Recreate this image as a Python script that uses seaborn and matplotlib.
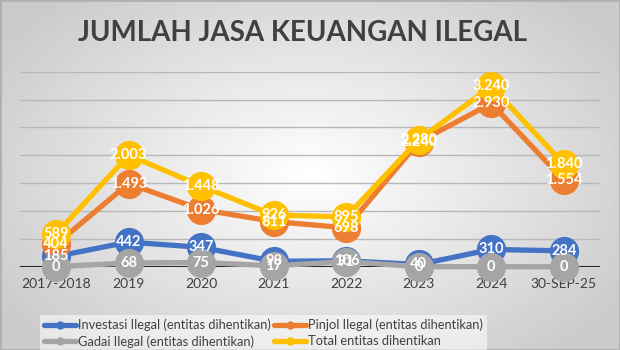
import numpy as np
import pandas as pd
import matplotlib
matplotlib.use("Agg")
import matplotlib.pyplot as plt
import seaborn as sns
from matplotlib.lines import Line2D

categories = ["2017-2018", "2019", "2020", "2021", "2022", "2023", "2024", "30-SEP-25"]
investasi = [185, 442, 347, 98, 106, 40, 310, 284]
pinjol = [404, 1493, 1026, 811, 698, 2240, 2930, 1554]
gadai = [0, 68, 75, 17, 91, 0, 0, 0]
total = [589, 2003, 1448, 926, 895, 2280, 3240, 1840]
names = ["Investasi Ilegal (entitas dihentikan)", "Pinjol Ilegal (entitas dihentikan)",
         "Gadai Ilegal (entitas dihentikan)", "Total entitas dihentikan"]
colors = ["#4472C4", "#ED7D31", "#A5A5A5", "#FFC000"]

sns.set_theme(style="white")
plt.rcParams['font.family'] = ['Lato', 'DejaVu Sans']

fig = plt.figure(figsize=(6.2, 3.5), dpi=100)

# radial grey-to-white background like the excel chart area
bg = fig.add_axes([0, 0, 1, 1])
yy, xx = np.mgrid[-1:1:350j, -1:1:620j]
r = np.sqrt(xx**2 + (yy * 0.9)**2)
bg.imshow(1 - 0.17 * np.clip(r, 0, 1.2), cmap="gray", vmin=0, vmax=1, aspect="auto")
bg.set_axis_off()
bg.add_patch(plt.Rectangle((0, 0), 1, 1, transform=bg.transAxes, fill=False,
                           edgecolor="#b0b0b0", lw=2))

ax = fig.add_axes([0.032, 0.238, 0.936, 0.557])
ax.patch.set_alpha(0)

series = [investasi, pinjol, gadai, total]
for name, vals, col in zip(names, series, colors):
    sns.lineplot(x=categories, y=vals, ax=ax, color=col, lw=3.8, marker="o",
                 markersize=21, markeredgewidth=0, sort=False, clip_on=False)

for vals in series:
    for i, v in enumerate(vals):
        ax.text(i, v, f"{v:,}".replace(",", "."), ha="center", va="center",
                color="white", fontsize=10.5, fontweight="bold", zorder=10)

ax.set_xlim(-0.5, len(categories) - 0.5)
ax.set_ylim(0, 3500)
ax.set_yticks(np.arange(0, 3501, 500))
ax.set_yticklabels([])
ax.grid(axis="y", color="#b8b8b8", lw=1)
ax.grid(axis="x", visible=False)
ax.axhline(0, color="#262626", lw=2.2, zorder=1)
for s in ax.spines.values():
    s.set_visible(False)
ax.tick_params(axis="x", length=0, pad=8, labelsize=10, labelcolor="#404040")
ax.tick_params(axis="y", length=0)
ax.set_xlabel("")
ax.set_ylabel("")

fig.text(303 / 620, 1 - 33 / 350, "JUMLAH JASA KEUANGAN ILEGAL", ha="center", va="center",
         fontsize=20, fontweight="bold", color="#404040")

# legend fills column-wise, so order entries to read row by row
order = [0, 2, 1, 3]
handles = [Line2D([], [], color=colors[k], lw=3.8, marker="o", markersize=6,
                  markeredgewidth=0) for k in order]
leg = fig.legend(handles, [names[k] for k in order], ncol=2, loc="upper left",
                 bbox_to_anchor=(40 / 620, 1 - 315 / 350), fontsize=9.3,
                 frameon=True, fancybox=False, handlelength=2.5, handletextpad=0.15,
                 columnspacing=0.2, labelspacing=0.3, borderpad=0.3, borderaxespad=0)
leg.get_frame().set_facecolor("white")
leg.get_frame().set_alpha(0.55)
leg.get_frame().set_edgecolor("none")
for t in leg.get_texts():
    t.set_color("#404040")

fig.savefig("out.png", dpi=100)
